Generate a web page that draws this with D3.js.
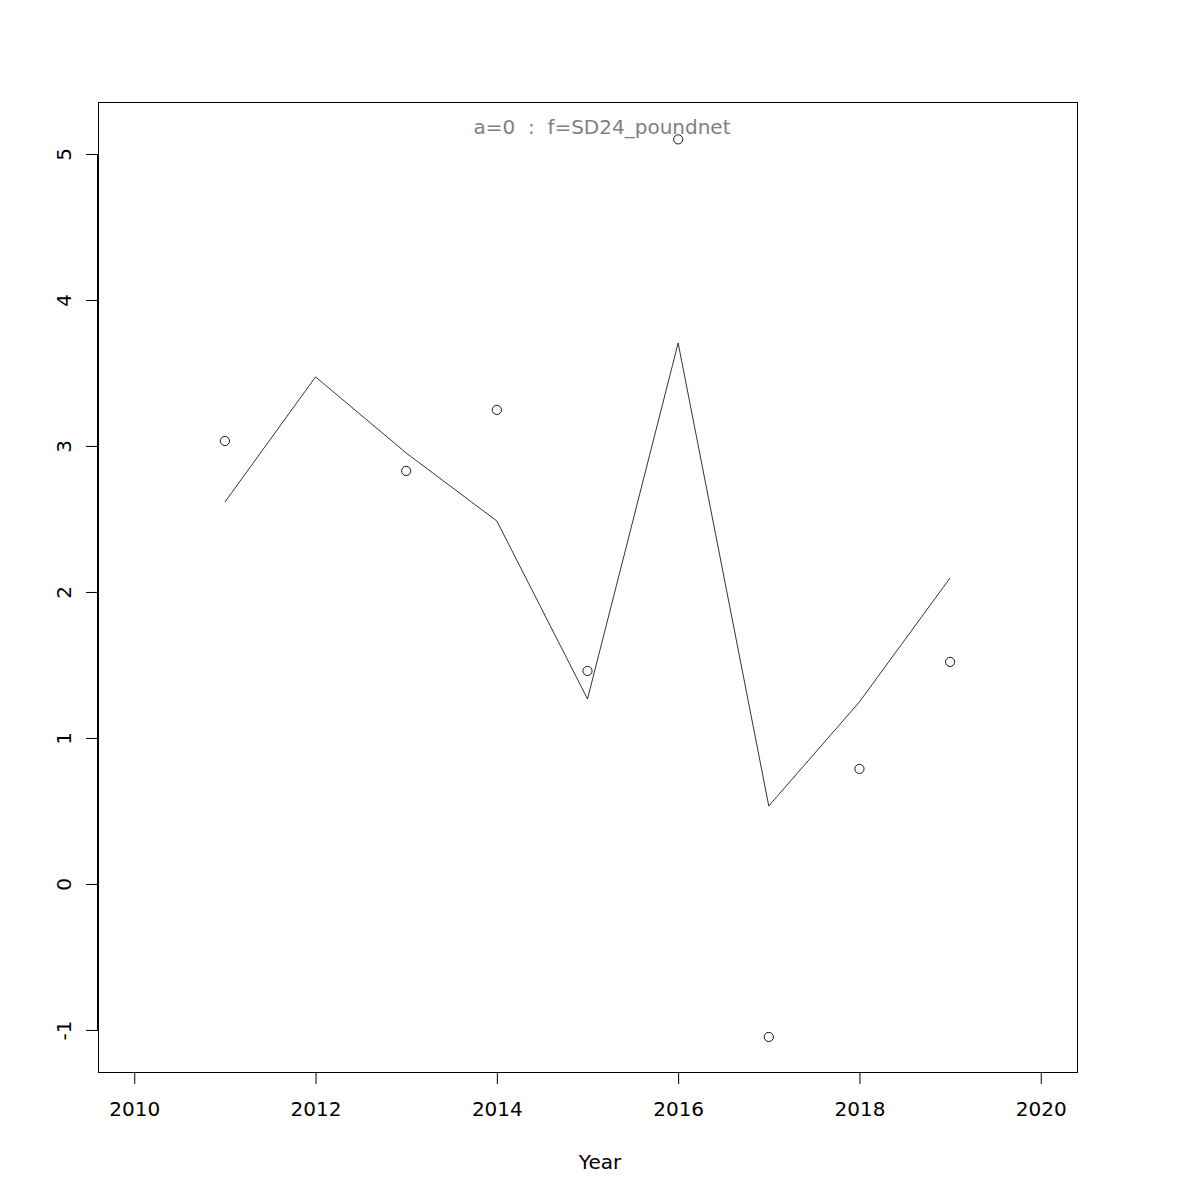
<!DOCTYPE html>
<html><head><meta charset="utf-8">
<script src="https://cdn.jsdelivr.net/npm/d3@7"></script>
<style>body{margin:0;background:#fff}svg{display:block}text{font-family:"DejaVu Sans",sans-serif;white-space:pre}</style>
</head><body>
<svg id="c" width="1200" height="1200"></svg>
<script>
const years = [2011, 2012, 2013, 2014, 2015, 2016, 2017, 2018, 2019];
const pointYears = [2011, 2013, 2014, 2015, 2016, 2017, 2018, 2019];
const observed = [3.034, 2.829, 3.247, 1.459, 5.10, -1.048, 0.788, 1.521];
const fitted = [2.616, 3.473, 2.952, 2.486, 1.267, 3.705, 0.534, 1.247, 2.096];
const xTicks = [2010, 2012, 2014, 2016, 2018, 2020];
const yTicks = [-1, 0, 1, 2, 3, 4, 5];
const title = "a=0  :  f=SD24_poundnet";
const xLabel = "Year";

const FS = 20;
const svg = d3.select("#c");
const L = 98, R = 1077, T = 102, B = 1072;
const x = d3.scaleLinear().domain([2009.6, 2020.4]).range([L, R]);
const y = d3.scaleLinear().domain([-1.288, 5.356]).range([B, T]);

// box
svg.append("rect").attr("x", L).attr("y", T).attr("width", R - L).attr("height", B - T)
  .attr("fill", "none").attr("stroke", "#000").attr("stroke-width", 1).attr("shape-rendering","crispEdges");

// x axis
const xa = svg.append("g").attr("transform", `translate(0,${B})`)
  .call(d3.axisBottom(x).tickValues(xTicks).tickFormat(d3.format("d")).tickSize(12).tickPadding(18));
xa.select(".domain").attr("d", `M${x(2010)},0.5H${x(2020)}`).attr("stroke","#000");
xa.selectAll("text").attr("font-size", FS).attr("fill", "#000").attr("font-family","DejaVu Sans");
xa.selectAll("line").attr("stroke","#000");

// y axis
const ya = svg.append("g").attr("transform", `translate(${L},0)`)
  .call(d3.axisLeft(y).tickValues(yTicks).tickFormat(d3.format("d")).tickSize(12));
ya.select(".domain").attr("d", `M-0.5,${y(-1)}V${y(5)}`).attr("stroke","#000");
ya.selectAll("line").attr("stroke","#000");
ya.selectAll("text").remove();
ya.selectAll(".tick").append("text")
  .attr("transform", "translate(-34,0) rotate(-90)")
  .attr("text-anchor", "middle").attr("dy", "0.35em")
  .attr("font-size", FS).attr("fill", "#000").attr("font-family","DejaVu Sans")
  .text(d => d);

// line
svg.append("path").datum(years.map((yr, i) => [yr, fitted[i]]))
  .attr("fill", "none").attr("stroke", "#000").attr("stroke-width", 0.8)
  .attr("d", d3.line().x(d => x(d[0])).y(d => y(d[1])));

// points
svg.selectAll("circle.pt").data(pointYears.map((yr, i) => [yr, observed[i]])).join("circle")
  .attr("class","pt").attr("cx", d => x(d[0])).attr("cy", d => y(d[1])).attr("r", 4.6)
  .attr("fill", "none").attr("stroke", "#000").attr("stroke-width", 0.9);

// title
svg.append("text").attr("x", 602).attr("y", 134).attr("text-anchor", "middle")
  .attr("xml:space","preserve")
  .attr("font-size", FS).attr("fill", "#808080").text(title);

// x label
svg.append("text").attr("x", 600).attr("y", 1169).attr("text-anchor", "middle")
  .attr("font-size", FS).attr("fill", "#000").text(xLabel);
</script>
</body></html>
